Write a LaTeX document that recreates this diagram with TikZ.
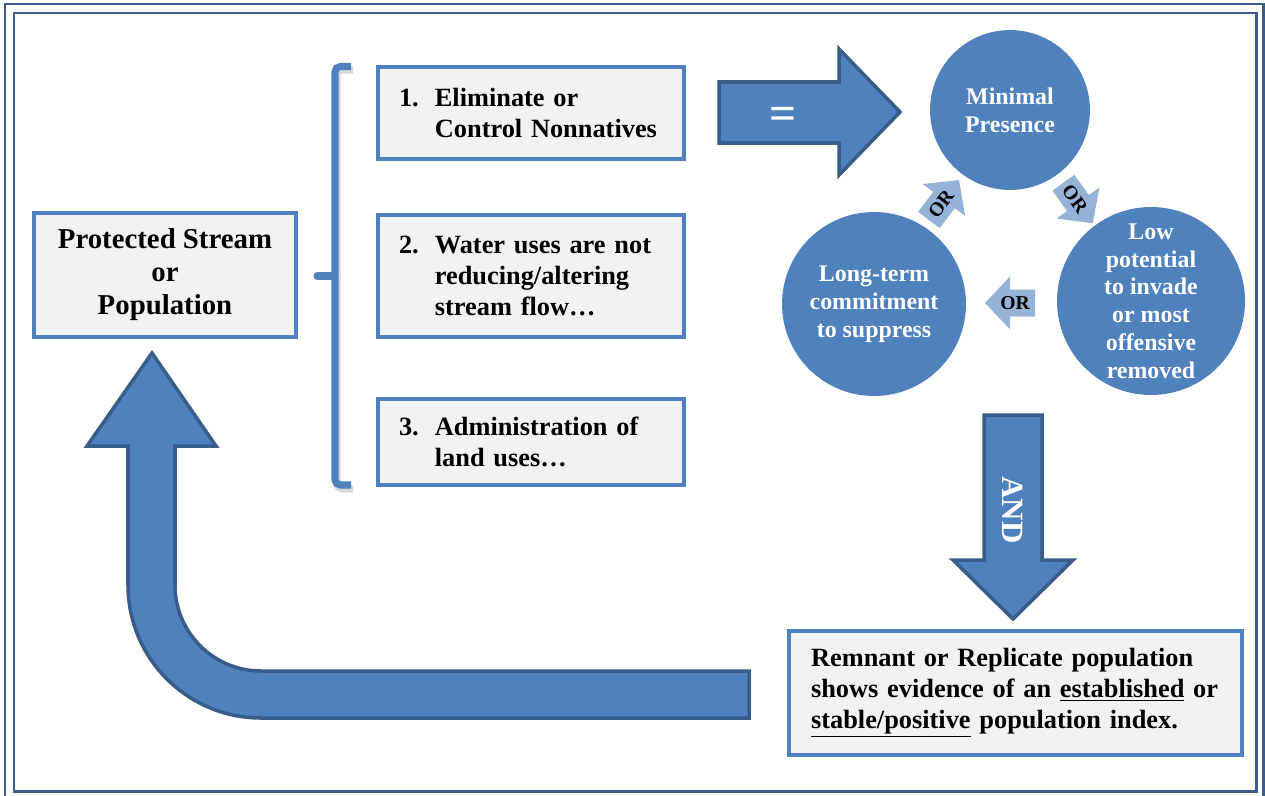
\documentclass[tikz,border=0pt]{standalone}
\usepackage{fontspec}
\setmainfont{Liberation Serif}
\usetikzlibrary{positioning}
\definecolor{office}{RGB}{79,129,189}
\definecolor{officedark}{RGB}{56,93,138}
\definecolor{paleblue}{RGB}{149,179,215}
\definecolor{boxfill}{RGB}{242,242,242}
\newlength\numw
\setlength\numw{20.4pt}
\newcommand{\numitem}[2]{\noindent\makebox[\numw][l]{#1}%
  \parbox[t]{\dimexpr150pt-\numw\relax}{\raggedright #2}}
\tikzset{
  frame/.style={draw=officedark,line width=1.7pt},
  panel/.style={draw=office,fill=boxfill,line width=2.4pt,align=left,
    inner xsep=11.95pt,inner ysep=0pt,text width=150.2pt,
    font=\fontsize{15}{17.6}\selectfont\bfseries},
  blob/.style={circle,fill=office,text=white,inner sep=0pt,align=center,
    font=\fontsize{13.6}{15.8}\selectfont\bfseries},
  bigarrow/.style={fill=office,draw=officedark,line width=2pt,line join=miter},
  brace/.style={draw=#1,line width=4pt,rounded corners=3pt},
  brace/.default=office,
  ortext/.style={font=\fontsize{11.2}{13}\selectfont\bfseries,inner sep=0pt},
  % small OR arrow, pointing along +x
  pics/orarrow/.style={code={
    \fill[paleblue] (-25,-13.5) -- (0,-13.5) -- (0,-26.5) -- (25,0)
      -- (0,26.5) -- (0,13.5) -- (-25,13.5) -- cycle;
  }},
}
\begin{document}
\begin{tikzpicture}[x=0.02cm,y=-0.02cm]
  \useasboundingbox (0,0) rectangle (1265,795);
  % double frame
  \draw[frame] (5,4) rectangle (1263,801);
  \draw[frame] (14,13) rectangle (1256,791);

  % left box and bracket
  \node[panel,align=center,text width=,minimum width=149.1pt,minimum height=70.6pt,
    inner sep=0pt,font=\fontsize{16.4}{18.8}\selectfont\bfseries]
    (protected) at (165,275) {Protected Stream\\or\\Population};
  \draw[brace=black!25,opacity=0.6] (353,70) -- (337,70) -- (337,489) -- (353,489);
  \draw[brace] (351,66.5) -- (335,66.5) -- (335,485) -- (351,485);
  \draw[brace,line cap=round] (335,276) -- (317,276);

  \node[panel,minimum height=52.4pt] (elim) at (531,113)
    {\numitem{1.}{Eliminate or\\Control Nonnatives}};
  \node[panel,minimum height=69.4pt] (water) at (531,276)
    {\numitem{2.}{Water uses are not\\reducing/altering\\stream flow\dots}};
  \node[panel,minimum height=48.9pt] (admin) at (531,442)
    {\numitem{3.}{Administration of\\land uses\dots}};

  % equals arrow
  \draw[bigarrow] (719,82) -- (839,82) -- (839,49) -- (900,112) -- (839,175)
    -- (839,143) -- (719,143) -- cycle;
  \node[text=white,font=\fontsize{27}{30}\selectfont\bfseries] (eq) at (783,118) {=};

  % circles
  \node[blob,minimum size=91pt] (minimal) at (1010,110) {Minimal\\Presence};
  \node[blob,minimum size=104.7pt] (longterm) at (874,304)
    {Long-term\\commitment\\to suppress};
  \node[blob,minimum size=107pt] (lowpot) at (1151,301)
    {Low\\potential\\to invade\\or most\\offensive\\removed};
  \pic[rotate=53] at (944,200) {orarrow};
  \pic[rotate=-54] at (1078,203) {orarrow};
  \pic[rotate=180] at (1010,303) {orarrow};
  \node[ortext,rotate=53] (or1) at (941,204) {OR};
  \node[ortext,rotate=-54] (or2) at (1075,199) {OR};
  \node[ortext] (or3) at (1015,303) {OR};

  % AND arrow
  \draw[bigarrow] (984,415) -- (1042,415) -- (1042,560) -- (1073,560) -- (1013,619)
    -- (953,560) -- (984,560) -- cycle;
  \node[text=white,rotate=-90,font=\fontsize{17.6}{20}\selectfont\bfseries] (and) at (1013,510) {AND};

  \node[panel,text width=232.7pt,inner xsep=12.5pt,minimum height=70.6pt]
    (remnant) at (1015.5,693)
    {Remnant or Replicate population\\shows evidence of an \underline{established} or\\\underline{stable/positive} population index.};

  % return arrow
  \draw[bigarrow] (749,671) -- (261,671) arc[start angle=90,end angle=180,radius=86]
    -- (175,446) -- (216,446) -- (152,353) -- (87,446) -- (128,446)
    -- (128,585) arc[start angle=180,end angle=90,radius=133] -- (749,718) -- cycle;
\end{tikzpicture}
\end{document}
